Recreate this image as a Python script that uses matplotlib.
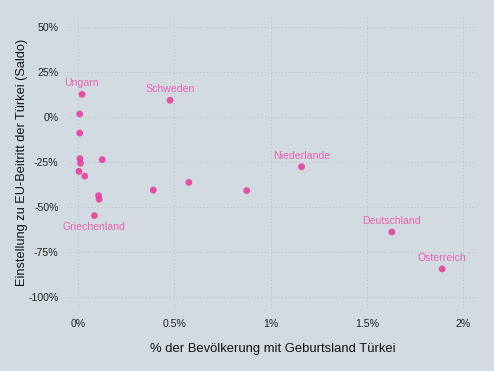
import matplotlib
matplotlib.use("Agg")
import matplotlib.pyplot as plt
from matplotlib.ticker import FuncFormatter

plt.rcParams['font.family'] = ['Liberation Sans', 'DejaVu Sans']

# % der Bevoelkerung mit Geburtsland Tuerkei / Saldo der Einstellung zum EU-Beitritt
share = [0.021, 0.009, 0.009, 0.010, 0.013, 0.005, 0.035, 0.126, 0.478, 0.576,
         0.391, 0.876, 0.107, 0.110, 0.085, 1.161, 1.630, 1.891]
saldo = [12.6, 1.7, -8.9, -23.1, -25.7, -30.2, -32.8, -23.7, 9.3, -36.3,
         -40.6, -40.9, -43.7, -45.7, -54.8, -27.6, -63.9, -84.4]
names = ['Ungarn', '', '', '', '', '', '', '', 'Schweden', '',
         '', '', '', '', 'Griechenland', 'Niederlande', 'Deutschland', 'Österreich']
below = ['Griechenland']

xticks = [0, 0.5, 1, 1.5, 2]
yticks = [50, 25, 0, -25, -50, -75, -100]

bg = '#d2dbe1'
pink = '#e6409a'
label_col = '#e964ae'

fig = plt.figure(figsize=(4.94, 3.71), dpi=100, facecolor=bg)
ax = fig.add_axes([0.1356, 0.1698, 0.832, 0.787], facecolor=bg)

ax.scatter(share, saldo, s=24, color=pink, alpha=0.9, edgecolors='none', zorder=3)

for x, y, n in zip(share, saldo, names):
    if not n:
        continue
    dy = -11 if n in below else 11
    ax.annotate(n, (x, y), xytext=(0, dy), textcoords='offset pixels',
                ha='center', va='center', fontsize=7.6, color=label_col)

ax.set_xlim(-0.057, 2.077)
ax.set_ylim(-106.1, 56.1)
ax.set_xticks(xticks)
ax.set_yticks(yticks)
ax.xaxis.set_major_formatter(FuncFormatter(lambda v, p: f'{v:g}%'))
ax.yaxis.set_major_formatter(FuncFormatter(lambda v, p: f'{v:g}%'))
ax.tick_params(length=0, labelsize=7.6, colors='#222222', pad=6)
ax.tick_params(axis='x', pad=8)
ax.grid(True, linestyle=(0, (1, 2.5)), color='#b8c0c7', linewidth=0.7)
ax.set_axisbelow(True)
for s in ax.spines.values():
    s.set_visible(False)

ax.set_xlabel('% der Bevölkerung mit Geburtsland Türkei', fontsize=9.4, color='#111111', labelpad=10)
ax.set_ylabel('Einstellung zu EU-Beitritt der Türkei (Saldo)', fontsize=9.2, color='#111111', labelpad=0)

fig.savefig('out.png', dpi=100, facecolor=bg)
